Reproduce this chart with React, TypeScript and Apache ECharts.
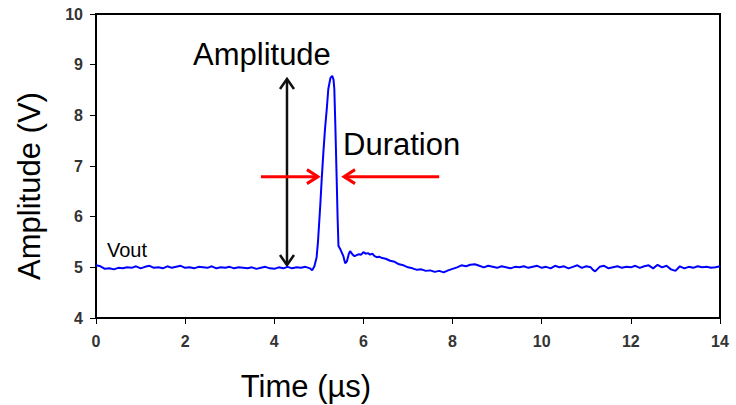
import React, { useEffect, useRef } from 'react';
import * as echarts from 'echarts';

// Time (µs)
const timeUs = [
  0.0, 0.1, 0.2, 0.3, 0.4, 0.5, 0.6, 0.7, 0.8, 0.9,
  1.0, 1.1, 1.2, 1.3, 1.4, 1.5, 1.6, 1.7, 1.8, 1.9,
  2.0, 2.1, 2.2, 2.3, 2.4, 2.5, 2.6, 2.7, 2.8, 2.9,
  3.0, 3.1, 3.2, 3.3, 3.4, 3.5, 3.6, 3.7, 3.8, 3.9,
  4.0, 4.1, 4.2, 4.3, 4.4, 4.5, 4.6, 4.7, 4.8, 4.85,
  4.9, 4.95, 4.98, 5.03, 5.064, 5.1, 5.138, 5.18, 5.212, 5.26,
  5.3, 5.33, 5.347, 5.37, 5.4, 5.42, 5.44, 5.48, 5.51, 5.55,
  5.59, 5.63, 5.67, 5.7, 5.75, 5.8, 5.85, 5.9, 5.95, 6.0,
  6.05, 6.1, 6.15, 6.2, 6.25, 6.3, 6.35, 6.4, 6.5, 6.6,
  6.7, 6.8, 6.9, 7.0, 7.1, 7.2, 7.3, 7.4, 7.5, 7.6,
  7.7, 7.8, 7.9, 8.0, 8.1, 8.2, 8.3, 8.4, 8.5, 8.6,
  8.7, 8.8, 8.9, 9.0, 9.1, 9.2, 9.3, 9.4, 9.5, 9.6,
  9.7, 9.8, 9.9, 10.0, 10.1, 10.2, 10.3, 10.4, 10.5, 10.6,
  10.7, 10.8, 10.9, 11.0, 11.1, 11.15, 11.2, 11.3, 11.4, 11.5,
  11.6, 11.7, 11.8, 11.9, 12.0, 12.1, 12.2, 12.3, 12.4, 12.5,
  12.6, 12.7, 12.8, 12.9, 13.0, 13.1, 13.2, 13.3, 13.4, 13.5,
  13.6, 13.7, 13.8, 13.9, 14.0,
];

// Vout (V)
const voltage = [
  5.04, 5.02, 4.97, 4.98, 4.96, 4.99, 4.98, 5.0, 4.99, 5.02,
  4.98, 5.01, 5.03, 4.99, 5.0, 4.98, 5.02, 4.99, 5.01, 5.03,
  4.99, 5.0, 4.98, 5.01, 5.0, 4.99, 5.02, 4.98, 5.0, 4.99,
  5.01, 4.98, 5.0, 4.99, 4.98, 5.0, 4.97, 4.99, 5.01, 4.98,
  4.97, 5.0, 4.98, 5.01, 4.98, 5.0, 4.99, 5.01, 4.98, 4.94,
  5.02, 5.2, 5.5, 6.2, 6.74, 7.25, 7.73, 8.15, 8.52, 8.74,
  8.78, 8.7, 8.52, 7.8, 6.74, 6.0, 5.42, 5.36, 5.3, 5.22,
  5.08, 5.12, 5.26, 5.32, 5.26, 5.22, 5.24, 5.26, 5.25, 5.3,
  5.27, 5.28, 5.25, 5.27, 5.22, 5.2, 5.21, 5.19, 5.17, 5.13,
  5.11, 5.06, 5.04, 5.0, 4.98, 4.95, 4.96, 4.93, 4.94, 4.91,
  4.93, 4.9, 4.94, 4.97, 5.0, 5.04, 5.02, 5.05, 5.06, 5.03,
  5.0, 5.03, 5.01, 4.99, 5.02, 5.0, 4.98, 5.01, 5.0, 5.02,
  4.99, 5.01, 5.03, 4.99, 5.01, 4.98, 5.03, 5.0, 5.02, 4.98,
  5.01, 5.04, 4.99, 5.02, 5.0, 4.95, 4.92, 5.01, 5.03, 4.98,
  5.0, 5.02, 4.99, 5.01, 5.0, 5.03, 4.99, 5.02, 5.04, 4.98,
  5.05, 5.0, 5.03, 4.96, 4.93, 5.02, 4.98, 5.01, 4.99, 5.02,
  5.0, 5.01, 4.99, 5.0, 5.02, 5.01,
];

const seriesName = 'Vout';
const xTitle = 'Time (µs)';
const yTitle = 'Amplitude (V)';

// annotation anchors in data space (µs, V)
const amplitudeArrow = { t: 4.285, from: 5.046, to: 8.717 };
const durationArrows = [
  { from: [3.7, 6.79], to: [4.98, 6.79] },
  { from: [7.7, 6.79], to: [5.564, 6.79] },
];

const FONT = "'Liberation Sans', Arial, Helvetica, sans-serif";

export default function App() {
  const ref = useRef<HTMLDivElement>(null);

  useEffect(() => {
    if (!ref.current) return;
    const chart = echarts.init(ref.current, undefined, { renderer: 'svg' });
    const data = timeUs.map((t, i) => [t, voltage[i]]);

    chart.setOption({
      animation: false,
      backgroundColor: '#ffffff',
      grid: {
        left: 96,
        right: 16,
        top: 14,
        bottom: 87,
        show: true,
        borderColor: '#000',
        borderWidth: 2,
        backgroundColor: 'transparent',
      },
      xAxis: {
        type: 'value',
        min: 0,
        max: 14,
        interval: 2,
        axisLine: { show: true, lineStyle: { color: '#000', width: 2 } },
        axisTick: { show: true, inside: false, length: 6, lineStyle: { color: '#000', width: 1 } },
        axisLabel: {
          margin: 15,
          color: '#333',
          fontWeight: 'bold',
          fontSize: 16,
          fontFamily: FONT,
        },
        splitLine: { show: false },
      },
      yAxis: {
        type: 'value',
        min: 4,
        max: 10,
        interval: 1,
        axisLine: { show: true, lineStyle: { color: '#000', width: 2 } },
        axisTick: { show: true, inside: false, length: 6, lineStyle: { color: '#000', width: 1 } },
        axisLabel: {
          margin: 13,
          color: '#333',
          fontWeight: 'bold',
          fontSize: 16,
          fontFamily: FONT,
        },
        splitLine: { show: false },
      },
      series: [
        {
          name: seriesName,
          type: 'line',
          data,
          showSymbol: false,
          symbol: 'none',
          lineStyle: { color: '#0000ff', width: 2 },
        },
      ],
    });

    const px = (t: number, v: number) =>
      chart.convertToPixel({ gridIndex: 0 } as any, [t, v]) as number[];

    const chevron = (tail: number[], tip: number[], len: number, halfW: number) => {
      const dx = tip[0] - tail[0];
      const dy = tip[1] - tail[1];
      const L = Math.hypot(dx, dy) || 1;
      const ux = dx / L;
      const uy = dy / L;
      const bx = tip[0] - ux * len;
      const by = tip[1] - uy * len;
      return [
        [bx - uy * halfW, by + ux * halfW],
        [tip[0], tip[1]],
        [bx + uy * halfW, by - ux * halfW],
      ];
    };

    const graphics: any[] = [];

    // amplitude double arrow
    const aBot = px(amplitudeArrow.t, amplitudeArrow.from);
    const aTop = px(amplitudeArrow.t, amplitudeArrow.to);
    const black = '#111';
    graphics.push({
      type: 'line',
      shape: { x1: aBot[0], y1: aBot[1], x2: aTop[0], y2: aTop[1] },
      style: { stroke: black, lineWidth: 2.5 },
    });
    graphics.push({
      type: 'polyline',
      shape: { points: chevron(aBot, aTop, 10, 7) },
      style: { stroke: black, lineWidth: 2.5, fill: null },
    });
    graphics.push({
      type: 'polyline',
      shape: { points: chevron(aTop, aBot, 10, 7) },
      style: { stroke: black, lineWidth: 2.5, fill: null },
    });

    // duration arrows
    durationArrows.forEach((a) => {
      const tail = px(a.from[0], a.from[1]);
      const tip = px(a.to[0], a.to[1]);
      graphics.push({
        type: 'line',
        shape: { x1: tail[0], y1: tail[1], x2: tip[0], y2: tip[1] },
        style: { stroke: '#ff0000', lineWidth: 3 },
      });
      graphics.push({
        type: 'polyline',
        shape: { points: chevron(tail, tip, 11, 7) },
        style: { stroke: '#ff0000', lineWidth: 3, fill: null },
      });
    });

    // texts
    graphics.push({
      type: 'text',
      x: 193,
      y: 54,
      style: { text: 'Amplitude', fontSize: 31, fontFamily: FONT, fill: '#000', align: 'left', verticalAlign: 'middle' },
    });
    graphics.push({
      type: 'text',
      x: 343,
      y: 144,
      style: { text: 'Duration', fontSize: 31, fontFamily: FONT, fill: '#000', align: 'left', verticalAlign: 'middle' },
    });
    graphics.push({
      type: 'text',
      x: 107,
      y: 250,
      style: { text: seriesName, fontSize: 20, fontFamily: FONT, fill: '#000', align: 'left', verticalAlign: 'middle' },
    });
    graphics.push({
      type: 'text',
      x: 306,
      y: 386,
      style: { text: xTitle, fontSize: 31, fontFamily: FONT, fill: '#000', align: 'center', verticalAlign: 'middle' },
    });
    graphics.push({
      type: 'text',
      x: 29,
      y: 186,
      rotation: Math.PI / 2,
      style: { text: yTitle, fontSize: 31, fontFamily: FONT, fill: '#000', align: 'center', verticalAlign: 'middle' },
    });

    chart.setOption({ graphic: graphics });

    return () => chart.dispose();
  }, []);

  return (
    <div
      ref={ref}
      style={{ position: 'fixed', left: 0, top: 0, width: 736, height: 405, background: '#fff' }}
    />
  );
}
